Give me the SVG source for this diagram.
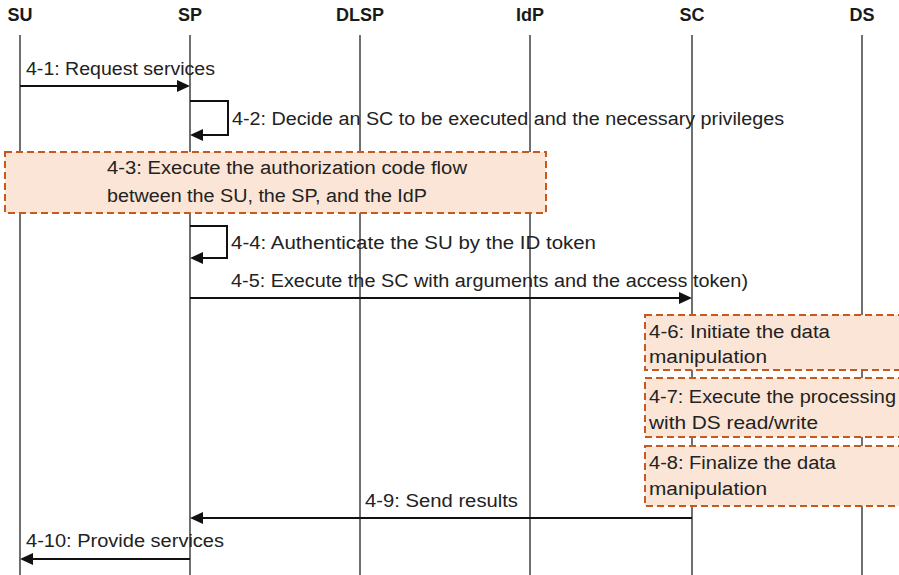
<svg xmlns="http://www.w3.org/2000/svg" width="899" height="575" viewBox="0 0 899 575">
<defs>
<style>
.hdr{font-family:"Liberation Sans",Arial,sans-serif;font-weight:bold;font-size:18px;fill:#1a1a1a;text-anchor:middle}
.lbl{font-family:"Liberation Sans",Arial,sans-serif;font-size:18px;fill:#222}
.life{stroke:#222;stroke-width:1.3;fill:none}
.msg{stroke:#111;stroke-width:2;fill:none;marker-end:url(#ah)}
.act{fill:#fbe5d6;stroke:#c65a1e;stroke-width:2;stroke-dasharray:7 4}
</style>
<marker id="ah" viewBox="0 0 13 12" refX="9" refY="6" markerWidth="13" markerHeight="12" markerUnits="userSpaceOnUse" orient="auto">
<path d="M0,0 L13,6 L0,12 z" fill="#111"/>
</marker>
</defs>
<rect width="899" height="575" fill="#fff"/>
<g id="SU"><text class="hdr" x="20" y="21">SU</text><line class="life" x1="20" y1="35" x2="20" y2="575"/></g>
<g id="SP"><text class="hdr" x="190" y="21">SP</text><line class="life" x1="190" y1="35" x2="190" y2="575"/></g>
<g id="DLSP"><text class="hdr" x="360" y="21">DLSP</text><line class="life" x1="360" y1="35" x2="360" y2="575"/></g>
<g id="IdP"><text class="hdr" x="530" y="21">IdP</text><line class="life" x1="530" y1="35" x2="530" y2="575"/></g>
<g id="SC"><text class="hdr" x="692" y="21">SC</text><line class="life" x1="692" y1="35" x2="692" y2="575"/></g>
<g id="DS"><text class="hdr" x="862" y="21">DS</text><line class="life" x1="862" y1="35" x2="862" y2="575"/></g>
<g id="step4-3">
<rect class="act" x="5" y="152" width="541" height="61"/>
<text class="lbl" x="107" y="174" textLength="360" lengthAdjust="spacingAndGlyphs">4-3: Execute the authorization code flow</text>
<text class="lbl" x="107" y="202" textLength="320" lengthAdjust="spacingAndGlyphs">between the SU, the SP, and the IdP</text>
</g>
<g id="step4-6">
<rect class="act" x="645" y="315" width="260" height="55"/>
<text class="lbl" x="649" y="338" textLength="181" lengthAdjust="spacingAndGlyphs">4-6: Initiate the data</text>
<text class="lbl" x="649" y="363" textLength="118" lengthAdjust="spacingAndGlyphs">manipulation</text>
</g>
<g id="step4-7">
<rect class="act" x="645" y="378" width="260" height="59"/>
<text class="lbl" x="649" y="403" textLength="247" lengthAdjust="spacingAndGlyphs">4-7: Execute the processing</text>
<text class="lbl" x="649" y="429" textLength="169" lengthAdjust="spacingAndGlyphs">with DS read/write</text>
</g>
<g id="step4-8">
<rect class="act" x="645" y="446" width="260" height="60"/>
<text class="lbl" x="649" y="469" textLength="187" lengthAdjust="spacingAndGlyphs">4-8: Finalize the data</text>
<text class="lbl" x="649" y="495" textLength="118" lengthAdjust="spacingAndGlyphs">manipulation</text>
</g>
<g id="connectors">
<line class="msg" x1="20" y1="86" x2="186" y2="86"/>
<text class="lbl" x="26" y="75" textLength="189" lengthAdjust="spacingAndGlyphs">4-1: Request services</text>
<path class="msg" d="M190,101 H228 V135 H194"/>
<text class="lbl" x="232" y="125" textLength="552" lengthAdjust="spacingAndGlyphs">4-2: Decide an SC to be executed and the necessary privileges</text>
<path class="msg" d="M190,226 H227 V258 H194"/>
<text class="lbl" x="231" y="249" textLength="365" lengthAdjust="spacingAndGlyphs">4-4: Authenticate the SU by the ID token</text>
<line class="msg" x1="190" y1="298" x2="688" y2="298"/>
<text class="lbl" x="231" y="287" textLength="517" lengthAdjust="spacingAndGlyphs">4-5: Execute the SC with arguments and the access token)</text>
<line class="msg" x1="692" y1="518" x2="194" y2="518"/>
<text class="lbl" x="365" y="507" textLength="153" lengthAdjust="spacingAndGlyphs">4-9: Send results</text>
<line class="msg" x1="190" y1="559" x2="24" y2="559"/>
<text class="lbl" x="26" y="547" textLength="198" lengthAdjust="spacingAndGlyphs">4-10: Provide services</text>
</g>
</svg>
